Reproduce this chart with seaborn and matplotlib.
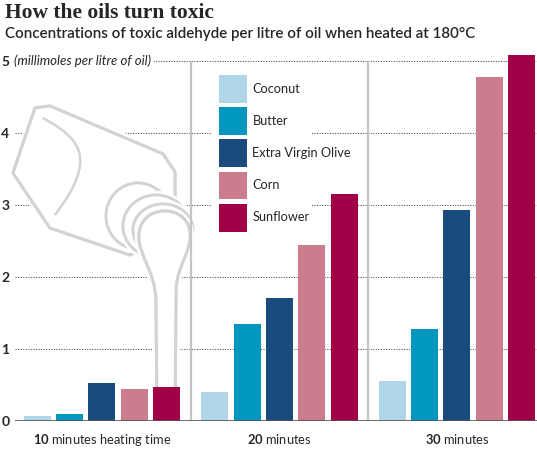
import numpy as np
import pandas as pd
import seaborn as sns
import matplotlib.pyplot as plt
from matplotlib.patches import Polygon, Ellipse, PathPatch, Rectangle
from matplotlib.path import Path
import matplotlib.patheffects as pe
import matplotlib.transforms as mtransforms

# Data
times = ["10", "20", "30"]
oils = ["Coconut", "Butter", "Extra Virgin Olive", "Corn", "Sunflower"]
coconut = [0.07, 0.40, 0.55]
butter = [0.10, 1.35, 1.28]
olive = [0.52, 1.71, 2.92]
corn = [0.44, 2.44, 4.77]
sunflower = [0.47, 3.15, 5.08]
colors = ["#afd5e6", "#0096bf", "#1a4b7e", "#cc7d8d", "#a10046"]
xlabels = [r"$\mathbf{10}$ minutes heating time",
           r"$\mathbf{20}$ minutes",
           r"$\mathbf{30}$ minutes"]
yticks = [0, 1, 2, 3, 4, 5]

rows = []
for oil, vals in zip(oils, [coconut, butter, olive, corn, sunflower]):
    for t, v in zip(times, vals):
        rows.append({"time": t, "oil": oil, "value": v})
df = pd.DataFrame(rows)

sns.set_style("white")
plt.rcParams['font.family'] = ['Lato', 'DejaVu Sans']
plt.rcParams['mathtext.fontset'] = 'custom'
plt.rcParams['mathtext.rm'] = 'Lato'
plt.rcParams['mathtext.bf'] = 'Lato:bold'

W, H = 537, 450
fig = plt.figure(figsize=(W / 100, H / 100), dpi=100)
ax = fig.add_axes([15 / W, 29.3 / H, 522 / W, 5.1 * 72 / H])

sns.barplot(data=df, x="time", y="value", hue="oil", order=times,
            hue_order=oils, palette=colors, width=0.91, gap=0.165,
            linewidth=0, saturation=1, ax=ax, legend=True)
for p in ax.patches:
    p.set_zorder(2)

ax.set_xlim(-0.49, 2.451)
ax.set_ylim(0, 5.1)
ax.set_yticks(yticks)
ax.set_yticklabels([str(v) for v in yticks], fontweight="bold", fontsize=10)
ax.set_xticks(range(3))
ax.set_xticklabels(xlabels, fontsize=9.3)
ax.tick_params(length=0, axis="y", pad=4)
ax.tick_params(length=0, axis="x", pad=8)
ax.set_xlabel("")
ax.set_ylabel("")
for s in ax.spines.values():
    s.set_visible(False)

# dotted grid
ax.set_axisbelow(True)
ax.yaxis.grid(True, linestyle=(0, (1, 1.3)), color="#555555", lw=0.8)
ax.axhline(0, color="#555555", lw=1.2, zorder=3)

# group separators
ax.vlines([0.5, 1.5], 0, 5, color="#c4c4c4", lw=1.6, zorder=1.5)

# unit text on the top gridline
trans = mtransforms.blended_transform_factory(fig.transFigure, ax.transData)
ax.text(14 / W, 5, "(millimoles per litre of oil)", transform=trans,
        fontsize=9.5, style="italic", va="center", ha="left", zorder=1.6,
        clip_on=False,
        bbox=dict(facecolor="white", edgecolor="none", pad=2.5))

# pitcher drawing
def px(x, y):
    return (x / W, 1 - y / H)

pcol = "#d3d3d3"
halo = [pe.withStroke(linewidth=6, foreground="white"), pe.Normal()]

def add(patch, z):
    patch.set_transform(fig.transFigure)
    patch.set_clip_on(False)
    patch.set_zorder(z)
    patch.set_path_effects(halo)
    ax.add_patch(patch)

body = [(35, 108), (50, 106), (163, 154), (175, 172), (175, 200),
        (150, 245), (130, 255), (50, 228), (13, 173)]
add(Polygon([px(*p) for p in body], closed=True, facecolor="white",
            edgecolor=pcol, lw=2.2, joinstyle="round"), 1.0)

inner = Path([px(43, 118), px(70, 133), px(82, 145), px(80, 165),
              px(78, 185), px(62, 205), px(55, 215)],
             [Path.MOVETO, Path.CURVE4, Path.CURVE4, Path.CURVE4,
              Path.CURVE4, Path.CURVE4, Path.CURVE4])
add(PathPatch(inner, facecolor="none", edgecolor=pcol, lw=1.6), 1.01)

def ell(cx, cy, w, h, z):
    c = px(cx, cy)
    add(Ellipse(c, w / W, h / H, facecolor="white", edgecolor=pcol,
                lw=2.0), z)

ell(138, 216, 64, 66, 1.02)
ell(156, 226, 66, 62, 1.03)
ell(163, 230, 60, 52, 1.04)

stream = Path([px(157, 418), px(156, 300),
               px(155, 270), px(138, 255), px(139, 235),
               px(140, 203), px(190, 203), px(190, 235),
               px(190, 255), px(177, 265), px(176, 290),
               px(175, 418), px(157, 418)],
              [Path.MOVETO, Path.LINETO,
               Path.CURVE4, Path.CURVE4, Path.CURVE4,
               Path.CURVE4, Path.CURVE4, Path.CURVE4,
               Path.CURVE4, Path.CURVE4, Path.CURVE4,
               Path.LINETO, Path.LINETO])
add(PathPatch(stream, facecolor="white", edgecolor=pcol, lw=2.2), 1.05)

# legend with white backing box
ax.add_patch(Rectangle(px(211, 238), 100 / W, 170 / H,
                       transform=fig.transFigure, facecolor="white",
                       edgecolor="none", zorder=1.6, clip_on=False))
leg = ax.legend(loc="upper left", bbox_to_anchor=px(219, 75),
                bbox_transform=fig.transFigure, frameon=False,
                fontsize=9.2, handlelength=2.17, handleheight=2.95,
                labelspacing=0.36, handletextpad=0.45, borderpad=0,
                borderaxespad=0)
leg.set_zorder(5)

# titles
fig.text(5 / W, 1 - 3 / H, "How the oils turn toxic",
         family="Liberation Serif", fontweight="bold", fontsize=15.5,
         va="top", ha="left")
fig.text(5 / W, 1 - 27 / H,
         "Concentrations of toxic aldehyde per litre of oil when heated at 180°C",
         fontsize=10.9, fontweight="semibold", va="top", ha="left")

fig.savefig("out.png", dpi=100)
